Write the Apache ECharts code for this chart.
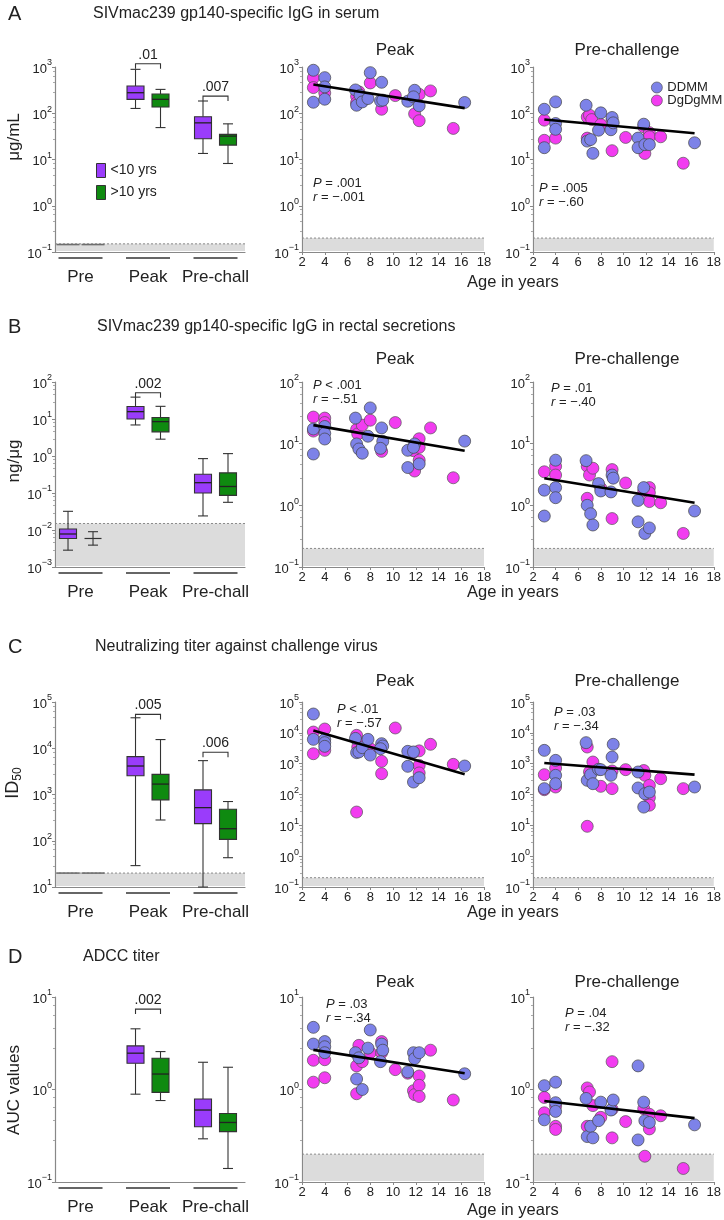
<!DOCTYPE html>
<html><head><meta charset="utf-8">
<script src="https://cdn.jsdelivr.net/npm/echarts@6/dist/echarts.min.js"></script>
<style>html,body{margin:0;padding:0;background:#fff}#c{width:724px;height:1220px}</style>
</head><body><div id="c"></div>
<script>
// ---------- DATA ----------
const groupLabels = ['Pre', 'Peak', 'Pre-chall'];
const ageTicks = [2, 18, 2]; // min, max, step of age axis

// Box panels: [group, min, q1, median, q3, max]
const A_young = [[0,0.145,0.145,0.145,0.145,0.145],[1,127,200,278,387,890],[2,13.5,28,62,84,184]];
const A_old   = [[0,0.145,0.145,0.145,0.145,0.145],[1,49,136,200,260,328],[2,8.2,20.5,32,35,59]];
const B_young = [[0,0.00285,0.0059,0.0078,0.0106,0.032],[1,6.9,10,15.8,21.7,39],[2,0.024,0.1,0.19,0.32,0.85]];
const B_old   = [[0,0.0039,0.0059,0.0059,0.0059,0.009],[1,2.85,4.5,8.5,11,22],[2,0.056,0.086,0.15,0.35,1.16]];
const C_young = [[0,20,20,20,20,20],[1,29,2540,4130,6600,45600],[2,10,234,520,1260,5400]];
const C_old   = [[0,20,20,20,20,20],[1,281,765,1680,2720,15400],[2,43,107,182,480,705]];
const D_young = [[1,0.89,1.92,2.47,2.96,4.53],[2,0.293,0.395,0.6,0.79,1.97]];
const D_old   = [[1,0.76,0.93,1.47,2.18,2.57],[2,0.14,0.35,0.44,0.55,1.74]];

// significance brackets: [group, value] and labels
const A_brackets = [[1,1180],[2,235]]; const A_bracketLabels = ['.01','.007'];
const B_brackets = [[1,51]];           const B_bracketLabels = ['.002'];
const C_brackets = [[1,54000],[2,8200]]; const C_bracketLabels = ['.005','.006'];
const D_brackets = [[1,7.4]];          const D_bracketLabels = ['.002'];

// detection limits (grey band top): box panel, scatter panels
const A_lod = [0.15, 0.2]; const B_lod = [0.015, 0.2]; const C_lod = [20, 0.2]; const D_lod = [null, 0.2];

// Scatter: [age, value]
const A_peak_DDMM = [[3,850],[3,173],[4,589],[4,371],[4,201],[6.7,319],[6.8,149],[7.1,245],[7.3,176],[7.8,208],[8,755],[9,467],[8.9,185],[9.1,192],[11.3,182],[11.9,314],[11.8,226],[12.3,145],[16.3,171]];
const A_peak_DgDgMM = [[3,580],[3,359],[4,275],[6.8,233],[7,290],[6.8,168],[8,452],[9,122],[10.2,241],[11.9,97],[12.3,257],[12.3,69],[13.3,304],[15.3,47]];
const A_pre_DDMM = [[3,122],[3,18],[4,176],[4,60],[4,45],[6.7,149],[6.8,25],[7.1,27],[7.3,13.6],[7.8,43],[8,102],[8.9,44],[9,81],[9.1,62],[11.3,29],[11.3,18],[11.8,58],[11.9,21],[12.3,21],[16.3,23]];
const A_pre_DgDgMM = [[3,71],[3,26],[4,29],[6.8,83],[7,91],[7.2,73],[6.8,29],[8,57],[9,15.5],[9,73],[10.2,30],[11.8,51],[11.9,13.5],[12.3,38],[12.3,31],[13.3,31],[15.3,8.3]];
const B_peak_DDMM = [[3,17.3],[3,6.8],[4,19],[4,14.7],[4,11.9],[6.7,26],[6.8,9.9],[7,8.2],[7.3,7],[7.8,13.2],[8,38],[9,18],[9.1,10.9],[8.9,8.4],[11.3,7.8],[11.3,4.1],[11.9,9.9],[11.8,8.7],[12.3,4.7],[16.3,11]];
const B_peak_DgDgMM = [[3,27],[3,16],[4,26],[4,22],[6.8,17],[6.9,14.4],[7.3,20],[8,24],[9,7.5],[10.2,22],[11.8,7.7],[11.9,3.6],[12.3,12],[12.3,8.7],[12.3,5.4],[13.3,18],[15.3,2.8]];
const B_pre_DDMM = [[3,1.76],[3,0.67],[4,5.4],[4,1.94],[4,1.33],[6.7,5.3],[6.8,1.0],[7.1,0.73],[7.3,0.48],[7.8,2.25],[8,1.71],[8.9,1.65],[9,3.1],[9.1,2.76],[11.3,1.2],[11.3,0.54],[11.8,1.94],[11.9,0.35],[12.3,0.43],[16.3,0.81]];
const B_pre_DgDgMM = [[3,3.5],[4,4.3],[4,3.1],[6.8,4.3],[7,3.1],[7.3,4.0],[6.8,1.3],[8,1.9],[9,3.8],[9,0.61],[10.2,2.3],[11.8,1.7],[12.3,1.94],[12.3,1.6],[12.3,1.15],[13.3,1.1],[15.3,0.35]];
const C_peak_DDMM = [[3,40800],[3,6150],[4,6150],[4,4800],[4,3650],[6.7,6600],[6.8,2280],[7,2400],[7.3,3300],[7.8,6150],[8,1900],[9,4450],[9.1,3740],[8.9,3060],[11.3,2510],[11.3,820],[11.8,2400],[11.8,254],[12.3,350],[16.3,840]];
const C_peak_DgDgMM = [[3,10600],[3,2100],[4,13300],[4,2700],[6.8,8300],[6.9,3470],[7.3,4240],[8,3060],[6.8,27],[9,1190],[9,474],[10.2,14350],[11.8,2300],[12.3,2600],[12.3,880],[12.3,500],[13.3,4240],[15.3,950]];
const C_pre_DDMM = [[3,2700],[3,155],[4,1280],[4,419],[4,224],[6.7,4800],[6.8,288],[7.1,440],[7.3,224],[7.8,655],[8,640],[8.9,419],[9,1640],[9.1,4240],[11.3,537],[11.3,163],[11.9,106],[11.8,39],[12.3,120],[16.3,175]];
const C_pre_DgDgMM = [[3,440],[3,143],[4,720],[4,175],[6.8,3470],[7,537],[7.3,1130],[8,184],[9,578],[9,155],[10.2,640],[11.8,600],[11.9,419],[12.3,198],[12.3,79],[12.3,45],[13.3,326],[15.3,155],[6.8,9.3]];
const D_peak_DDMM = [[3,4.7],[3,3.1],[4,3.3],[4,2.9],[4,2.5],[6.7,2.5],[6.8,1.3],[7,2.2],[7.3,1.0],[7.8,2.8],[8,4.4],[9,3.1],[9.1,2.66],[8.9,2.0],[11.3,1.55],[11.8,2.5],[11.9,2.16],[12.3,2.5],[16.3,1.48]];
const D_peak_DgDgMM = [[3,2.07],[3,1.2],[4,2.1],[4,1.34],[7,3.0],[6.8,1.8],[6.8,0.9],[7.3,2.0],[8,2.5],[9,3.3],[9,2.5],[10.2,1.64],[11.3,1.5],[11.8,0.97],[11.9,0.88],[12.3,1.4],[12.3,1.11],[12.3,0.84],[13.3,2.66],[15.3,0.77]];
const D_pre_DDMM = [[3,1.1],[3,0.47],[4,1.2],[4,0.72],[4,0.58],[6.7,0.8],[6.8,0.31],[7.1,0.4],[7.3,0.3],[7.8,0.46],[8,0.73],[8.9,0.6],[9.1,0.77],[11.3,1.8],[11.3,0.285],[11.8,0.73],[11.9,0.46],[12.3,0.44],[16.3,0.415]];
const D_pre_DgDgMM = [[3,0.82],[3,0.56],[4,0.66],[4,0.4],[4,0.37],[6.8,1.04],[7,0.94],[7.3,0.67],[6.8,0.4],[8,0.5],[9,2.0],[9,0.61],[9,0.3],[10.2,0.45],[11.8,0.62],[11.9,0.19],[12.3,0.54],[12.3,0.375],[13.3,0.52],[15.3,0.14]];

// regression lines: [age, value] endpoints
const A_peak_fit = [[3,417],[16.3,129]]; const A_pre_fit = [[3,73],[16.3,37]];
const B_peak_fit = [[3,20],[16.3,7.7]];  const B_pre_fit = [[3,2.75],[16.3,1.1]];
const C_peak_fit = [[3,12000],[16.3,450]]; const C_pre_fit = [[3,1050],[16.3,440]];
const D_peak_fit = [[3,2.68],[16.3,1.5]]; const D_pre_fit = [[3,0.75],[16.3,0.49]];

// axis ranges [min, max] (log)
const A_boxRange = [0.1, 1000];  const A_scRange = [0.1, 1000];
const B_boxRange = [0.001, 100]; const B_scRange = [0.1, 100];
const C_boxRange = [10, 100000]; const C_scRange = [0.1, 100000];
const D_boxRange = [0.1, 10];    const D_scRange = [0.1, 10];

// texts
const rowLetters = ['A','B','C','D'];
const rowTitles = ['SIVmac239 gp140-specific IgG in serum','SIVmac239 gp140-specific IgG in rectal secretions','Neutralizing titer against challenge virus','ADCC titer'];
const yNames = ['μg/mL','ng/μg','ID50','AUC values'];
const stats = [['.001','−.001','=','.005','−.60','='],['.001','−.51','<','.01','−.40','='],['.01','−.57','<','.03','−.34','='],['.03','−.34','=','.04','−.32','=']];

// ---------- BUILD ----------
const FONT = '"Liberation Sans", Arial, Helvetica, sans-serif';
const PURPLE = '#9a3cfb', GREEN = '#0f8a10', BLUE = '#7d82e8', MAG = '#f23cf0';
const TXT = '#222', AX = '#888';
const rowTop = [67, 382, 702, 997];
const rowH = 185;
const panelLeft = [55, 302, 533];
const panelW = [190, 182, 183];

const rows = [
  {young:A_young, old:A_old, br:A_brackets, brl:A_bracketLabels, lod:A_lod, boxR:A_boxRange, scR:A_scRange,
   sc:[[A_peak_DDMM,A_peak_DgDgMM,A_peak_fit],[A_pre_DDMM,A_pre_DgDgMM,A_pre_fit]]},
  {young:B_young, old:B_old, br:B_brackets, brl:B_bracketLabels, lod:B_lod, boxR:B_boxRange, scR:B_scRange,
   sc:[[B_peak_DDMM,B_peak_DgDgMM,B_peak_fit],[B_pre_DDMM,B_pre_DgDgMM,B_pre_fit]]},
  {young:C_young, old:C_old, br:C_brackets, brl:C_bracketLabels, lod:C_lod, boxR:C_boxRange, scR:C_scRange,
   sc:[[C_peak_DDMM,C_peak_DgDgMM,C_peak_fit],[C_pre_DDMM,C_pre_DgDgMM,C_pre_fit]]},
  {young:D_young, old:D_old, br:D_brackets, brl:D_bracketLabels, lod:D_lod, boxR:D_boxRange, scR:D_scRange,
   sc:[[D_peak_DDMM,D_peak_DgDgMM,D_peak_fit],[D_pre_DDMM,D_pre_DgDgMM,D_pre_fit]]}
];

function powLabel(v) {
  const e = Math.round(Math.log10(v));
  return '{b|10}{s|' + (e < 0 ? '−' + (-e) : e) + '}';
}
const powRich = {
  b: {fontSize: 13, fontFamily: FONT, color: TXT, lineHeight: 17, verticalAlign: 'bottom'},
  s: {fontSize: 9, fontFamily: FONT, color: TXT, lineHeight: 10, verticalAlign: 'top'}
};
function logY(gi, range) {
  const dec = Math.round(Math.log10(range[1] / range[0]));
  return {type:'log', logBase:10, gridIndex:gi, min:range[0], max:range[1], splitNumber:dec,
    axisLine:{show:true, onZero:false, lineStyle:{color:AX, width:1.2}},
    axisTick:{show:true, length:3, lineStyle:{color:AX}},
    minorTick:{show:true, splitNumber:5, length:2, lineStyle:{color:'#aaa'}},
    splitLine:{show:false},
    axisLabel:{formatter:powLabel, rich:powRich, margin:3}};
}

const grids = [], xAxes = [], yAxes = [], series = [];
const BOXW = 17, CAP = 10, OFF = 12.5;

function bandSeries(gi, lod) {
  return {type:'custom', xAxisIndex:gi, yAxisIndex:gi, silent:true, z:1, data:[[0, lod]],
    renderItem:(params, api) => {
      const cs = params.coordSys;
      const yT = api.coord([api.value(0), api.value(1)])[1];
      const yB = cs.y + cs.height;
      return {type:'group', children:[
        {type:'rect', shape:{x:cs.x+1, y:yT, width:cs.width-1, height:yB-yT-1}, style:{fill:'#dcdcdc'}},
        {type:'line', shape:{x1:cs.x, y1:yT, x2:cs.x+cs.width, y2:yT}, style:{stroke:'#8a8a8a', lineWidth:1, lineDash:[2,2]}}
      ]};
    }};
}

function boxSeries(name, color, data, gi, off) {
  return {type:'custom', name, xAxisIndex:gi, yAxisIndex:gi, data, z:3,
    itemStyle:{color, borderColor:'#333', borderWidth:1},
    encode:{x:0, y:[1,2,3,4,5]},
    renderItem:(params, api) => {
      const g = api.value(0);
      const v = [1,2,3,4,5].map(i => api.value(i));
      const x = api.coord([g, v[2]])[0] + off;
      const y = v.map(val => api.coord([g, val])[1]);
      const flat = v.every(val => val === v[0]);
      if (flat) {
        return {type:'line', shape:{x1:x-BOXW/2-3, y1:y[0], x2:x+BOXW/2+3, y2:y[0]}, style:{stroke:'#6e6e6e', lineWidth:1.6}};
      }
      const st = {stroke:'#333', lineWidth:1.1};
      const ch = [
        {type:'line', shape:{x1:x, y1:y[4], x2:x, y2:y[3]}, style:st},
        {type:'line', shape:{x1:x, y1:y[0], x2:x, y2:y[1]}, style:st},
        {type:'line', shape:{x1:x-CAP/2, y1:y[4], x2:x+CAP/2, y2:y[4]}, style:st},
        {type:'line', shape:{x1:x-CAP/2, y1:y[0], x2:x+CAP/2, y2:y[0]}, style:st}
      ];
      if (y[1] - y[3] > 0.5) {
        ch.push({type:'rect', shape:{x:x-BOXW/2, y:y[3], width:BOXW, height:y[1]-y[3]}, style:{fill:color, stroke:'#333', lineWidth:1.1}});
        ch.push({type:'line', shape:{x1:x-BOXW/2, y1:y[2], x2:x+BOXW/2, y2:y[2]}, style:{stroke:'#222', lineWidth:1.3}});
      } else {
        ch.push({type:'line', shape:{x1:x-BOXW/2, y1:y[2], x2:x+BOXW/2, y2:y[2]}, style:{stroke:'#333', lineWidth:1.2}});
      }
      return {type:'group', children:ch};
    }};
}

function bracketSeries(gi, data, labels) {
  return {type:'custom', xAxisIndex:gi, yAxisIndex:gi, data, z:4, silent:true, encode:{x:0,y:1},
    renderItem:(params, api) => {
      const p = api.coord([api.value(0), api.value(1)]);
      const xl = p[0] - OFF, xr = p[0] + OFF, y = p[1];
      return {type:'group', children:[
        {type:'polyline', shape:{points:[[xl,y+5],[xl,y],[xr,y],[xr,y+5]]}, style:{stroke:'#333', lineWidth:1.1, fill:null}},
        {type:'text', x:p[0], y:y-2, style:{text:labels[params.dataIndex], fontSize:14, fontFamily:FONT, fill:TXT, align:'center', verticalAlign:'bottom'}}
      ]};
    }};
}

function segSeries(gi) {
  return {type:'custom', xAxisIndex:gi, yAxisIndex:gi, data:groupLabels.map((_, i) => [i, 1]), z:4, silent:true, encode:{x:0},
    renderItem:(params, api) => {
      const cs = params.coordSys;
      const x = api.coord([api.value(0), 1])[0];
      const y = cs.y + cs.height + 6;
      return {type:'line', shape:{x1:x-22, y1:y, x2:x+22, y2:y}, style:{stroke:'#333', lineWidth:1.3}};
    }};
}

rows.forEach((r, ri) => {
  for (let p = 0; p < 3; p++) {
    const gi = ri * 3 + p;
    grids.push({left:panelLeft[p], top:rowTop[ri], width:panelW[p], height:rowH});
    if (p === 0) {
      xAxes.push({type:'value', gridIndex:gi, min:-0.378, max:2.437,
        axisLine:{show:true, onZero:false, lineStyle:{color:AX, width:1.2}}, axisTick:{show:false}, splitLine:{show:false},
        axisLabel:{customValues:[0,1,2], formatter:v => groupLabels[Math.round(v)], fontSize:17, fontFamily:FONT, color:TXT, margin:17}});
      yAxes.push(logY(gi, r.boxR));
      if (r.lod[0] != null) series.push(bandSeries(gi, r.lod[0]));
      series.push(boxSeries('<10 yrs', PURPLE, r.young, gi, -OFF));
      series.push(boxSeries('>10 yrs', GREEN, r.old, gi, OFF));
      series.push(bracketSeries(gi, r.br, r.brl));
      series.push(segSeries(gi));
    } else {
      xAxes.push({type:'value', gridIndex:gi, min:ageTicks[0], max:ageTicks[1], interval:ageTicks[2],
        axisLine:{show:true, onZero:false, lineStyle:{color:AX, width:1.2}}, axisTick:{show:true, length:3, lineStyle:{color:AX}},
        splitLine:{show:false},
        axisLabel:{fontSize:13, fontFamily:FONT, color:TXT, margin:4}});
      yAxes.push(logY(gi, r.scR));
      series.push(bandSeries(gi, r.lod[1]));
      const [dd, dg, fit] = r.sc[p - 1];
      series.push({type:'scatter', name:'DgDgMM', xAxisIndex:gi, yAxisIndex:gi, data:dg, symbolSize:12, z:3,
        itemStyle:{color:MAG, borderColor:'#555', borderWidth:0.7, opacity:1}});
      series.push({type:'scatter', name:'DDMM', xAxisIndex:gi, yAxisIndex:gi, data:dd, symbolSize:12, z:3,
        itemStyle:{color:BLUE, borderColor:'#444', borderWidth:0.7, opacity:1}});
      series.push({type:'line', xAxisIndex:gi, yAxisIndex:gi, data:fit, symbol:'none', z:5, silent:true,
        lineStyle:{color:'#000', width:2.6}});
    }
  }
});

// ---------- TEXT ----------
const graphics = [];
function txt(x, y, text, size, extra) {
  graphics.push({type:'text', x, y, silent:true,
    style:Object.assign({text, fontSize:size, fontFamily:FONT, fill:TXT, align:'left', verticalAlign:'middle'}, extra || {})});
}
const letterY = [14, 327, 647, 957];
const titleX = [93, 97, 95, 83];
rowLetters.forEach((l, i) => {
  txt(8, letterY[i], l, 20);
  txt(titleX[i], letterY[i], rowTitles[i], 16);
});
const subTitleY = [50, 359, 681, 982];
subTitleY.forEach(y => {
  txt(395, y, 'Peak', 17, {align:'center'});
  txt(627, y, 'Pre-challenge', 17, {align:'center'});
});
const ageY = [282, 592, 912, 1210];
ageY.forEach(y => txt(467, y, 'Age in years', 16.5));
// y-axis names (rotated)
const yNameY = [137, 461, 783, 1090];
yNames.forEach((n, i) => {
  const el = {type:'text', x:14, y:yNameY[i], rotation:Math.PI/2, silent:true,
    style:{text:n, fontSize:17, fontFamily:FONT, fill:TXT, align:'center', verticalAlign:'middle'}};
  if (n === 'ID50') {
    el.style.text = '{m|ID}{u|50}';
    el.style.rich = {m:{fontSize:18, fontFamily:FONT, fill:TXT, lineHeight:20, verticalAlign:'top'}, u:{fontSize:12, fontFamily:FONT, fill:TXT, lineHeight:20, verticalAlign:'bottom', padding:[8,0,0,0]}};
  }
  graphics.push(el);
});
// statistics annotations
const statPos = [[[313,176],[539,181]],[[313,378],[551,381]],[[337,702],[554,705]],[[326,997],[565,1006]]];
stats.forEach((s, i) => {
  [0, 1].forEach(k => {
    const [px, py] = statPos[i][k];
    graphics.push({type:'text', x:px, y:py, silent:true, style:{
      text:'{i|P} ' + s[k*3+2] + ' ' + s[k*3] + '\n{i|r} = ' + s[k*3+1],
      fontSize:13, fontFamily:FONT, fill:TXT, lineHeight:14.5, align:'left', verticalAlign:'top',
      rich:{i:{fontStyle:'italic', fontSize:13, fontFamily:FONT, fill:TXT, lineHeight:14.5}}}});
  });
});

const chart = echarts.init(document.getElementById('c'), null, {renderer:'canvas'});
chart.setOption({
  animation:false,
  backgroundColor:'#fff',
  textStyle:{fontFamily:FONT},
  grid:grids, xAxis:xAxes, yAxis:yAxes, series,
  legend:[
    {data:['<10 yrs','>10 yrs'], orient:'vertical', left:91, top:158, icon:'rect', itemWidth:9, itemHeight:14, itemGap:7,
     selectedMode:false, itemStyle:{borderColor:'#333', borderWidth:1}, textStyle:{fontSize:14, fontFamily:FONT, color:TXT}},
    {data:['DDMM','DgDgMM'], orient:'vertical', left:646, top:76, icon:'circle', itemWidth:11, itemHeight:11, itemGap:0,
     selectedMode:false, itemStyle:{borderColor:'#555', borderWidth:0.7}, textStyle:{fontSize:13, fontFamily:FONT, color:TXT, lineHeight:11}}
  ],
  graphic:graphics
});
</script></body></html>
